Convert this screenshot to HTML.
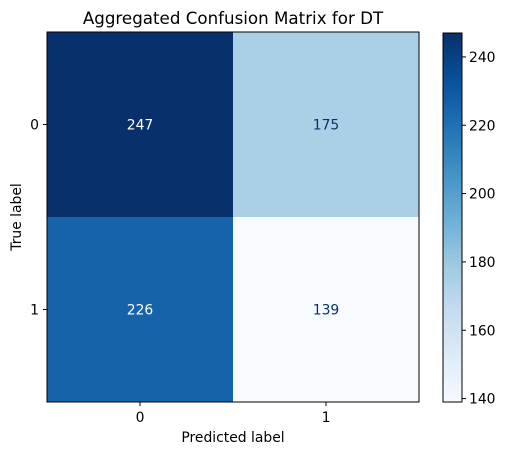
<!DOCTYPE html>
<html><head><meta charset="utf-8"><style>body{margin:0;background:#fff}svg{display:block;font-family:"DejaVu Sans","Liberation Sans",sans-serif}</style></head>
<body>
<svg id="c" width="507" height="455"></svg>
<script>
const classes=["0","1"];
const matrix=[[247,175],[226,139]];
const cbTicks=[140,160,180,200,220,240];
const title="Aggregated Confusion Matrix for DT";
const blues=["#f7fbff","#deebf7","#c6dbef","#9ecae1","#6baed6","#4292c6","#2171b5","#08519c","#08306b"];
const svg=document.getElementById('c');const NS="http://www.w3.org/2000/svg";
function mk(t,a,p){const e=document.createElementNS(NS,t);for(const k in a)e.setAttribute(k,a[k]);(p||svg).appendChild(e);return e;}
const flat=matrix.flat();const vmin=Math.min(...flat),vmax=Math.max(...flat);
function hex(h){return [1,3,5].map(i=>parseInt(h.substr(i,2),16));}
function cmap(t){t=Math.max(0,Math.min(1,t));const p=t*(blues.length-1);const i=Math.min(Math.floor(p),blues.length-2);const f=p-i;const a=hex(blues[i]),b=hex(blues[i+1]);return "rgb("+a.map((v,k)=>Math.round(v+(b[k]-v)*f)).join(",")+")";}
const L=47,R=419,T=32,B=402;const n=classes.length;const cw=(R-L)/n,ch=(B-T)/n;
const X=j=>L+j*cw, Y=i=>T+i*ch;
const FS=13.9;
matrix.forEach((row,i)=>row.forEach((v,j)=>{const t=(v-vmin)/(vmax-vmin);
const r=mk('rect',{x:X(j),y:Y(i),width:cw,height:ch,fill:cmap(t)});

const tx=mk('text',{x:X(j)+cw/2,y:Y(i)+ch/2+5,'text-anchor':'middle','font-size':FS,fill:t>0.5?'#fff':'#08306b'});tx.textContent=v;
}));
mk('rect',{x:L,y:T,width:R-L,height:B-T,fill:'none',stroke:'#000','stroke-width':1});
classes.forEach((c,j)=>{const x=X(j)+cw/2;mk('line',{x1:x,x2:x,y1:B,y2:B+4,stroke:'#000'});
const t=mk('text',{x:x,y:B+20,'text-anchor':'middle','font-size':FS});t.textContent=c;
const y=Y(j)+ch/2;mk('line',{x1:L-4,x2:L,y1:y,y2:y,stroke:'#000'});
const t2=mk('text',{x:L-8,y:y+5,'text-anchor':'end','font-size':FS});t2.textContent=c;});
let e=mk('text',{x:(L+R)/2,y:442,'text-anchor':'middle','font-size':FS});e.textContent="Predicted label";
e=mk('text',{x:0,y:0,'text-anchor':'middle','font-size':FS,transform:`translate(21,${(T+B)/2}) rotate(-90)`});e.textContent="True label";
e=mk('text',{x:(L+R)/2,y:24,'text-anchor':'middle','font-size':16.7});e.textContent=title;
const CL=443,CR=462,CT=33,CB=402;const g=mk('g',{});
const N=120;for(let k=0;k<N;k++){const y0=CB-(k+1)*(CB-CT)/N;mk('rect',{x:CL,y:y0,width:CR-CL,height:(CB-CT)/N+0.6,fill:cmap((k+0.5)/N)},g);}
mk('rect',{x:CL,y:CT,width:CR-CL,height:CB-CT,fill:'none',stroke:'#000'},g);
const CY=v=>CB-(v-vmin)/(vmax-vmin)*(CB-CT);
cbTicks.forEach(v=>{const y=CY(v);mk('line',{x1:CR,x2:CR+4,y1:y,y2:y,stroke:'#000'},g);const t=mk('text',{x:CR+7,y:y+5,'font-size':FS},g);t.textContent=v;});
</script>
</body></html>
